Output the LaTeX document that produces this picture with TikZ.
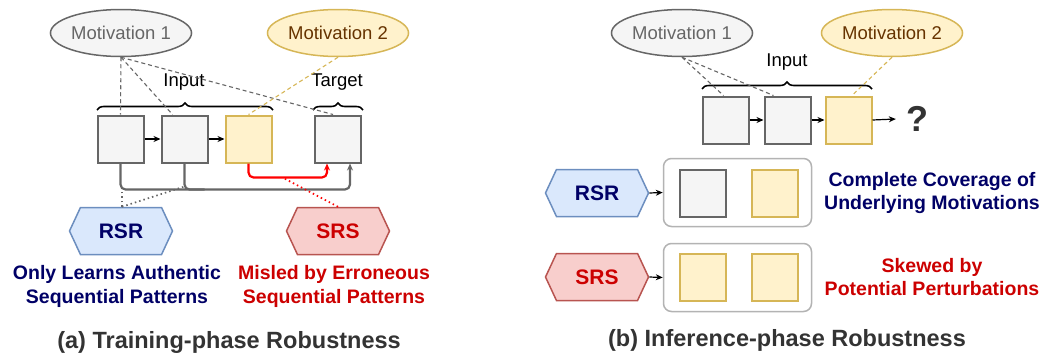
\documentclass[tikz,border=0pt]{standalone}
\usepackage{fontspec}
\setmainfont{Liberation Sans}
\usetikzlibrary{shapes.geometric,shapes.symbols,arrows.meta,decorations.pathreplacing,calc}
\definecolor{gfill}{HTML}{F5F5F5}
\definecolor{gline}{HTML}{666666}
\definecolor{yfill}{HTML}{FFF2CC}
\definecolor{yline}{HTML}{D6B656}
\definecolor{bfill}{HTML}{DAE8FC}
\definecolor{bline}{HTML}{6C8EBF}
\definecolor{rfill}{HTML}{F8CECC}
\definecolor{rline}{HTML}{B85450}
\definecolor{navy}{HTML}{000066}
\definecolor{darkred}{HTML}{CC0000}
\definecolor{brownt}{HTML}{663300}
\definecolor{capc}{HTML}{333333}
\definecolor{grpline}{HTML}{B3B3B3}
\begin{document}
\begin{tikzpicture}[x=1pt,y=-1pt,
  gbox/.style={draw=gline, fill=gfill, line width=2pt, minimum width=46pt, minimum height=47pt, inner sep=0pt},
  ybox/.style={draw=yline, fill=yfill, line width=2pt, minimum width=46pt, minimum height=47pt, inner sep=0pt},
  motg/.style={ellipse, draw=gline, fill=gfill, line width=1.5pt, minimum width=133pt, minimum height=47pt, inner sep=0pt, text=gline, font=\fontsize{18.5}{20}\selectfont},
  moty/.style={ellipse, draw=yline, fill=yfill, line width=1.5pt, minimum width=133pt, minimum height=47pt, inner sep=0pt, text=brownt, font=\fontsize{18.5}{20}\selectfont},
  hexb/.style={signal, signal to=west and east, signal from=nowhere, signal pointer angle=130, draw=bline, fill=bfill, line width=1.5pt, minimum width=103pt, minimum height=47pt, inner sep=0pt, text=navy, font=\fontsize{21}{23}\selectfont\bfseries},
  hexr/.style={hexb, draw=rline, fill=rfill, text=darkred},
  lbl/.style={font=\fontsize{18.5}{20}\selectfont, inner sep=0pt},
  desc/.style={align=center, inner sep=0pt, font=\fontsize{19.5}{23.5}\selectfont\bfseries},
  capt/.style={inner sep=0pt, text=capc, font=\fontsize{23.5}{26}\selectfont\bfseries},
  grp/.style={draw=grpline, fill=white, line width=1.5pt, rounded corners=8pt, minimum width=148pt, minimum height=68pt, inner sep=0pt},
  arr/.style={-{Stealth[length=7pt,width=6pt]}, line width=1.2pt, black},
  gpath/.style={draw=gline, line width=2.2pt, rounded corners=5pt},
  rpath/.style={draw=red, line width=2.2pt, rounded corners=5pt},
  gdash/.style={draw=gline, line width=1.1pt, dash pattern=on 4pt off 3pt},
  ydash/.style={draw=yline, line width=1.1pt, dash pattern=on 4pt off 3pt},
  gdot/.style={draw=gline, line width=1.7pt, dash pattern=on 1.5pt off 3pt},
  rdot/.style={draw=red, line width=1.7pt, dash pattern=on 1.5pt off 3pt},
  brc/.style={decorate, decoration={brace, amplitude=7pt}, line width=1.6pt, black}
]
\useasboundingbox (0,0) rectangle (1062,356);

% ---------------- left panel ----------------
\node[motg] (m1L) at (121,33) {Motivation 1};
\node[moty] (m2L) at (338,33) {Motivation 2};

\node[gbox] (bL1) at (120.5,139) {};
\node[gbox] (bL2) at (184.5,139) {};
\node[ybox] (bL3) at (248.5,139) {};
\node[gbox] (bL4) at (338,139) {};

\node[lbl] (inL) at (184,82) {Input};
\node[lbl] (tgL) at (337,82) {Target};
\draw[brc] (97,110) -- (273,110);
\draw[brc] (313,110) -- (363,110);

\draw[gdash] (m1L.south) -- (bL1.north);
\draw[gdash] (m1L.south) -- ($(bL2.north)+(-12,0)$);
\draw[gdash] (m1L.south) -- ($(bL4.north)+(-5,0)$);
\draw[ydash] (m2L.south) -- (bL3.north);

\draw[arr] (bL1) -- (bL2);
\draw[arr] (bL2) -- (bL3);

\draw[gpath, -{Stealth[length=7pt,width=6pt]}] (bL1.south) -- ++(0,26) -| ($(bL4.south)+(12,0)$);
\draw[gpath] (bL2.south) -- ++(0,26) -- ++(20,0);
\draw[rpath, -{Stealth[length=7pt,width=6pt]}] (bL3.south) -- ++(0,14) -| ($(bL4.south)+(-11,0)$);

\node[hexb] (rsrL) at (121,231) {RSR};
\node[hexr] (srsL) at (338,231) {SRS};

\coordinate (jA) at ($(bL1.south)+(1.5,26)$);
\coordinate (jB) at ($(bL2.south)+(0,23)$);
\coordinate (jR) at ($(bL3.south)+(34,14)$);
\draw[gdot] ($(rsrL.north)+(1,0)$) -- (jA);
\draw[gdot] ($(rsrL.north)+(1,0)$) -- (jB);
\draw[rdot] (srsL.north) -- (jR);

\node[desc, text=navy] (dL1) at (117,286.5) {Only Learns Authentic\\Sequential Patterns};
\node[desc, text=darkred] (dL2) at (334,286.5) {Misled by Erroneous\\Sequential Patterns};

\node[capt] (capA) at (229,342) {(a) Training-phase Robustness};

% ---------------- right panel ----------------
\node[motg] (m1R) at (682,33) {Motivation 1};
\node[moty] (m2R) at (892,33) {Motivation 2};

\node[gbox] (bR1) at (725.5,120) {};
\node[gbox] (bR2) at (787.5,120) {};
\node[ybox] (bR3) at (848.5,120) {};
\node[inner sep=0pt, text=capc, font=\fontsize{36}{38}\selectfont\bfseries] (q) at (917,119) {?};

\node[lbl] (inR) at (787,62) {Input};
\draw[brc] (702,89) -- (872,89);

\draw[gdash] (m1R.south) -- ($(bR1.north)+(-2,0)$);
\draw[gdash] (m1R.south) -- ($(bR2.north)+(-14,0)$);
\draw[ydash] (m2R.south) -- ($(bR3.north)+(3.5,0)$);

\draw[arr] (bR1) -- (bR2);
\draw[arr] (bR2) -- (bR3);
\draw[arr] (bR3.east) -- ($(q.west)+(-10,0)$);

\node[hexb] (rsrR) at (597,193) {RSR};
\node[hexr] (srsR) at (597,277) {SRS};

\node[grp] (g1) at (737.5,192.5) {};
\node[grp] (g2) at (737.5,277.5) {};
\node[gbox] (g1a) at (702.5,193) {};
\node[ybox] (g1b) at (774.5,193) {};
\node[ybox] (g2a) at (702.5,277.5) {};
\node[ybox] (g2b) at (774.5,277.5) {};

\draw[arr] (rsrR.east) -- (g1.west);
\draw[arr] (srsR.east) -- (g2.west);

\node[desc, text=navy] (dR1) at (932,193) {Complete Coverage of\\Underlying Motivations};
\node[desc, text=darkred] (dR2) at (932,277) {Skewed by\\Potential Perturbations};

\node[capt] (capB) at (787,340) {(b) Inference-phase Robustness};
\end{tikzpicture}
\end{document}
